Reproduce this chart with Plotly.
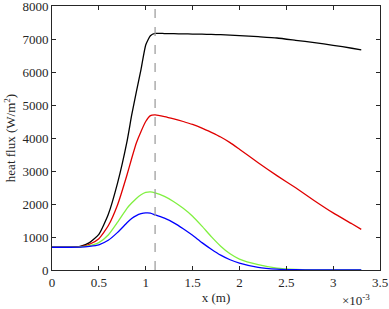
import plotly.graph_objects as go

# x positions (mm -> converted to metres below)
x_mm = [0, 0.1, 0.2, 0.3, 0.4, 0.5, 0.6, 0.7, 0.8, 0.85, 0.9, 0.95, 1.0, 1.05, 1.1,
        1.2, 1.3, 1.4, 1.5, 1.6, 1.7, 1.8, 1.9, 2.0, 2.2, 2.4, 2.6, 2.8, 3.0, 3.2, 3.3]

black = [690, 690, 693, 715, 830, 1080, 1680, 2640, 3890, 4690, 5400, 6080, 6820, 7100, 7170,
         7165, 7160, 7155, 7150, 7145, 7140, 7130, 7120, 7105, 7070, 7030, 6960, 6890, 6810, 6720, 6670]
red = [690, 690, 692, 705, 780, 950, 1340, 1980, 2880, 3380, 3850, 4200, 4500, 4680, 4700,
       4650, 4580, 4500, 4410, 4300, 4170, 4030, 3860, 3660, 3250, 2860, 2490, 2100, 1730, 1400, 1230]
green = [690, 690, 690, 698, 740, 830, 1060, 1450, 1870, 2030, 2170, 2280, 2350, 2370, 2340,
         2230, 2070, 1870, 1630, 1330, 1010, 720, 490, 330, 160, 55, 15, 4, 0, 0, 0]
blue = [690, 690, 690, 694, 718, 765, 900, 1140, 1430, 1560, 1650, 1705, 1730, 1725, 1670,
        1570, 1430, 1250, 1050, 830, 630, 450, 310, 210, 80, 25, 8, 2, 0, 0, 0]

marker_x = 1.1e-3

x_ticks = [0, 0.5, 1.0, 1.5, 2.0, 2.5, 3.0, 3.5]
x_tick_labels = ["0", "0.5", "1", "1.5", "2", "2.5", "3", "3.5"]
y_ticks = [0, 1000, 2000, 3000, 4000, 5000, 6000, 7000, 8000]

x_m = [v * 1e-3 for v in x_mm]

fig = go.Figure()
for ys, col in [(black, "#000000"), (red, "#e00000"), (green, "#80f040"), (blue, "#0000ff")]:
    fig.add_trace(go.Scatter(x=x_m, y=ys, mode="lines",
                             line=dict(color=col, width=1.3, shape="spline", smoothing=0.5),
                             showlegend=False))

fig.add_shape(type="line", x0=marker_x, x1=marker_x, y0=0, y1=1, xref="x", yref="paper",
              line=dict(color="#a0a0a0", width=1.3, dash="dash"))

font = dict(family="Times New Roman, Liberation Serif, serif", size=13, color="#262626")
axis_common = dict(showline=True, linecolor="#262626", linewidth=1, mirror="ticks",
                   ticks="inside", ticklen=4, tickcolor="#262626", showgrid=False,
                   zeroline=False, tickfont=font, ticklabeloverflow="allow")

fig.update_xaxes(range=[0, 3.5e-3], tickvals=[v * 1e-3 for v in x_ticks], ticktext=x_tick_labels,
                 title=dict(text="x (m)", font=font, standoff=4), **axis_common)
fig.update_yaxes(range=[0, 8000], tickvals=y_ticks,
                 title=dict(text="heat flux (W/m<sup>2</sup>)", font=font, standoff=3), **axis_common)

fig.add_annotation(text="×10<sup>-3</sup>", xref="paper", yref="paper", x=0.975, y=-0.115,
                   xanchor="right", yanchor="middle", showarrow=False, font=font)

fig.update_layout(width=389, height=309, margin=dict(l=52, r=9, t=6, b=39, autoexpand=False),
                  plot_bgcolor="white", paper_bgcolor="white", font=font)

fig.write_html("out.html", config={"displayModeBar": False},
               post_script="document.body.style.margin='0';")
